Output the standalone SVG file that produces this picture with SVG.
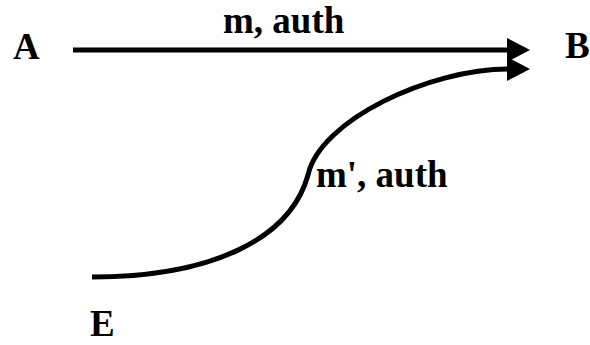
<svg xmlns="http://www.w3.org/2000/svg" width="590" height="345" viewBox="0 0 590 345">
<style>
.t{font-family:"Liberation Serif","Times New Roman",serif;font-weight:bold;font-size:37px;fill:#000}
.c{fill:none;stroke:#000;stroke-width:5}
</style>
<defs>
<marker id="ah" markerUnits="userSpaceOnUse" markerWidth="24" markerHeight="24" refX="1" refY="12" orient="auto" overflow="visible">
<path d="M0,0 L23,12 L0,24 z" fill="#000"/>
</marker>
</defs>
<rect width="590" height="345" fill="#fff"/>
<g id="connectors">
<path class="c" d="M73,50 L508,50" stroke-width="6" marker-end="url(#ah)"/>
<path class="c" d="M92,277 C210,277 290,240 308,175 C320,120 430,69 508,69" marker-end="url(#ah)"/>
</g>
<g id="nodeA"><text class="t" x="13" y="59">A</text></g>
<g id="nodeB"><text class="t" x="565" y="58">B</text></g>
<g id="nodeE"><text class="t" x="90" y="336">E</text></g>
<g id="labels">
<text class="t" x="223" y="33">m, auth</text>
<text class="t" x="316" y="187">m', auth</text>
</g>
</svg>
